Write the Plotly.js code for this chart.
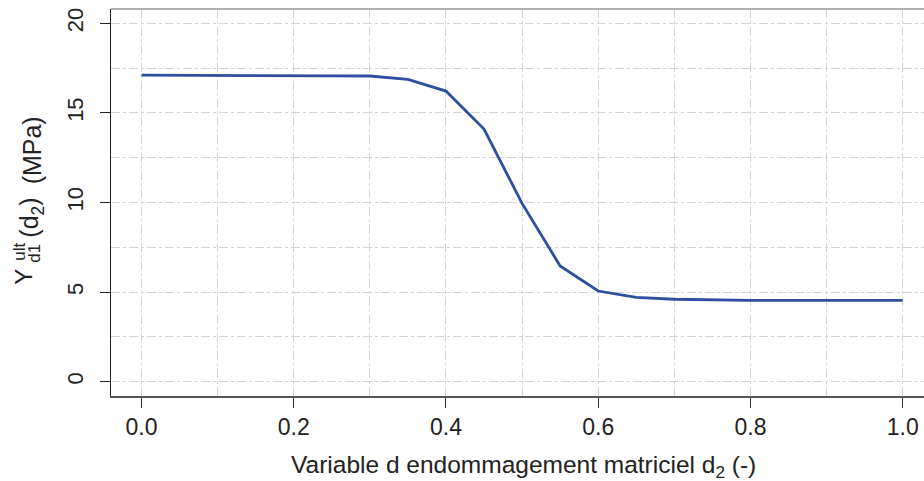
<!DOCTYPE html>
<html>
<head>
<meta charset="utf-8">
<script src="https://cdn.plot.ly/plotly-3.0.1.min.js"></script>
<style>html,body{margin:0;padding:0;background:#fff;}#chart{width:924px;height:481px;}</style>
</head>
<body>
<div id="chart"></div>
<script>
// Data
const damageD2 = [0, 0.05, 0.1, 0.15, 0.2, 0.25, 0.3, 0.35, 0.4, 0.45, 0.5, 0.55, 0.6, 0.65, 0.7, 0.75, 0.8, 0.85, 0.9, 0.95, 1.0];
const yUltMPa  = [17.11, 17.11, 17.11, 17.11, 17.11, 17.07, 17.06, 16.87, 16.22, 14.10, 9.95, 6.46, 5.06, 4.70, 4.60, 4.55, 4.54, 4.54, 4.54, 4.54, 4.54];
const xTickVals = [0, 0.2, 0.4, 0.6, 0.8, 1.0];
const xTickText = ['0.0', '0.2', '0.4', '0.6', '0.8', '1.0'];
const xMinorGrid = [0.1, 0.3, 0.5, 0.7, 0.9];
const yTickVals = [0, 5, 10, 15, 20];
const yTickText = ['0', '5', '10', '15', '20'];
const yMinorGrid = [2.5, 7.5, 12.5, 17.5];
const xTitle = 'Variable d endommagement matriciel d<sub>2</sub> (-)';

const FONT = 'Liberation Sans, Arial, sans-serif';
const gridCol = '#d4d4d4';
const txtCol = '#222';

const trace = {
  x: damageD2, y: yUltMPa, type: 'scatter', mode: 'lines',
  line: {color: '#2d4f9e', width: 2.8}, hoverinfo: 'skip'
};

function ann(text, x, y, size, angle) {
  return {text: text, xref: 'paper', yref: 'paper', x: x, y: y, xanchor: 'center', yanchor: 'middle',
          textangle: angle, showarrow: false, font: {family: FONT, size: size, color: txtCol}};
}

const layout = {
  width: 924, height: 481,
  margin: {l: 111, r: 0, t: 9, b: 85, pad: 0},
  paper_bgcolor: '#fff', plot_bgcolor: '#fff',
  showlegend: false,
  font: {family: FONT, size: 22, color: txtCol},
  xaxis: {
    range: [-0.04, 1.028], tickmode: 'array', tickvals: xTickVals, ticktext: xTickText,
    ticks: 'outside', ticklen: 10, tickwidth: 1, tickcolor: '#333',
    showline: true, linecolor: '#555', linewidth: 1.5,
    showgrid: true, gridcolor: gridCol, griddash: 'dashdot', gridwidth: 1,
    minor: {tickmode: 'array', tickvals: xMinorGrid, showgrid: true, gridcolor: gridCol, griddash: 'dashdot', ticks: ''},
    zeroline: false, tickfont: {family: FONT, size: 23, color: txtCol}
  },
  yaxis: {
    range: [-0.8, 20.8], tickmode: 'array', tickvals: yTickVals, ticktext: yTickText,
    ticks: 'outside', ticklen: 10, tickwidth: 1, tickcolor: '#222', tickangle: -90,
    ticklabelstandoff: 8,
    showline: true, linecolor: '#222', linewidth: 1.5,
    showgrid: true, gridcolor: gridCol, griddash: 'dashdot', gridwidth: 1,
    minor: {tickmode: 'array', tickvals: yMinorGrid, showgrid: true, gridcolor: gridCol, griddash: 'dashdot', ticks: ''},
    zeroline: false, tickfont: {family: FONT, size: 22, color: txtCol}
  },
  shapes: [
    {type: 'line', xref: 'paper', yref: 'paper', x0: 0, x1: 1, y0: 1, y1: 1, line: {color: '#999', width: 1.5}}
  ],
  annotations: [
    ann(xTitle, 0.507, -0.183, 24.5, 0),
    ann('Y', -0.107, 0.308, 24, -90),
    ann('ult', -0.1135, 0.372, 17, -90),
    ann('d1', -0.0935, 0.370, 17, -90),
    ann('(d<sub>2</sub>)', -0.0978, 0.462, 25, -90),
    ann('(MPa)', -0.0978, 0.636, 25, -90)
  ]
};

Plotly.newPlot('chart', [trace], layout, {staticPlot: true, displayModeBar: false});
</script>
</body>
</html>
